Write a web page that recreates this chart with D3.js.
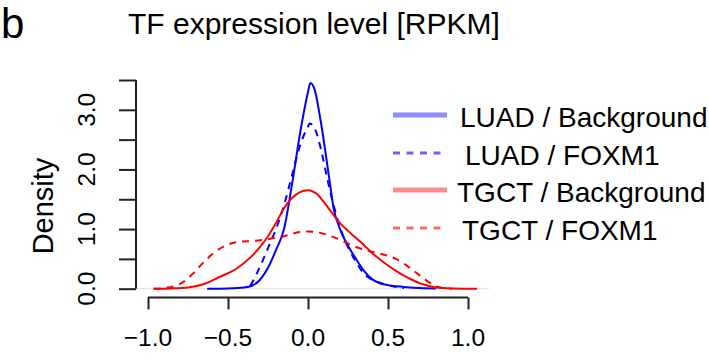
<!DOCTYPE html>
<html><head><meta charset="utf-8">
<script src="https://cdn.jsdelivr.net/npm/d3@7"></script>
<style>body{margin:0;background:#fff}svg{display:block}text{font-family:"Liberation Sans",Arial,Helvetica,sans-serif;fill:#000}</style>
</head><body><svg id="c" width="709" height="360"></svg>
<script>
const panelLabel = "b";
const title = "TF expression level [RPKM]";
const yLabel = "Density";
const xTicks = [-1.0, -0.5, 0.0, 0.5, 1.0];
const yTicks = [0, 0.5, 1, 1.5, 2, 2.5, 3, 3.5];
const yLabelTicks = [0, 1, 2, 3];
const seriesNames = ["LUAD / Background", "LUAD / FOXM1", "TGCT / Background", "TGCT / FOXM1"];
const seriesColors = ["#0000ff", "#0000ff", "#ff0000", "#ff0000"];
const seriesDashed = [false, true, false, true];

const luadBackground = [[-0.63,0],[-0.5,0.005],[-0.4,0.02],[-0.35,0.05],[-0.3,0.15],[-0.25,0.35],[-0.2,0.65],[-0.15,1.0],[-0.1,1.75],[-0.05,2.6],[0,3.3],[0.015,3.45],[0.04,3.35],[0.08,2.8],[0.13,1.9],[0.16,1.35],[0.2,1.0],[0.25,0.72],[0.3,0.5],[0.35,0.3],[0.4,0.16],[0.45,0.09],[0.5,0.06],[0.6,0.03],[0.7,0.01],[0.8,0.003]];
const luadFoxm1 = [[-0.36,0.05],[-0.33,0.2],[-0.3,0.37],[-0.25,0.68],[-0.2,1.0],[-0.15,1.4],[-0.1,1.9],[-0.05,2.4],[0,2.72],[0.01,2.77],[0.04,2.7],[0.08,2.35],[0.12,1.85],[0.16,1.4],[0.2,1.03],[0.25,0.7],[0.3,0.45],[0.35,0.25],[0.4,0.15],[0.45,0.1],[0.5,0.06],[0.55,0.03],[0.6,0.01]];
const tgctBackground = [[-0.965,0],[-0.85,0.005],[-0.75,0.02],[-0.65,0.08],[-0.55,0.2],[-0.45,0.33],[-0.35,0.55],[-0.3,0.7],[-0.25,0.88],[-0.2,1.1],[-0.15,1.35],[-0.1,1.52],[-0.05,1.62],[0,1.65],[0.03,1.63],[0.06,1.58],[0.1,1.45],[0.15,1.27],[0.2,1.1],[0.25,0.97],[0.3,0.85],[0.35,0.73],[0.4,0.6],[0.45,0.49],[0.5,0.39],[0.55,0.3],[0.6,0.22],[0.65,0.15],[0.7,0.09],[0.75,0.05],[0.8,0.02],[0.9,0.005],[1.056,0]];
const tgctFoxm1 = [[-0.965,0],[-0.9,0.01],[-0.8,0.08],[-0.72,0.25],[-0.65,0.45],[-0.58,0.62],[-0.5,0.74],[-0.42,0.79],[-0.35,0.8],[-0.25,0.83],[-0.15,0.88],[-0.05,0.95],[0,0.96],[0.05,0.95],[0.1,0.92],[0.2,0.82],[0.3,0.7],[0.4,0.62],[0.5,0.55],[0.55,0.5],[0.6,0.42],[0.65,0.32],[0.7,0.22],[0.75,0.12],[0.8,0.04],[0.85,0.01],[0.9,0]];
const seriesData = [luadBackground, luadFoxm1, tgctBackground, tgctFoxm1];

const svg = d3.select("#c");
const x = d3.scaleLinear().domain([-1, 1]).range([148, 468]);
const y = d3.scaleLinear().domain([0, 3.5]).range([288.7, 80]);
const axisColor = "#222";

// zero line
svg.append("line").attr("x1", 137).attr("x2", 489).attr("y1", y(0)).attr("y2", y(0))
  .attr("stroke", "#ddd").attr("stroke-width", 1);

// y axis
const yAxis = d3.axisLeft(y).tickValues(yTicks).tickSize(17).tickFormat("");
const gy = svg.append("g").attr("transform", "translate(136,0)").call(yAxis);
gy.select(".domain").attr("stroke", axisColor).attr("stroke-width", 2).attr("d", `M0,${y(3.5)}V${y(0)}`);
gy.selectAll(".tick line").attr("stroke", axisColor).attr("stroke-width", 2);
svg.selectAll(".ylab").data(yLabelTicks).enter().append("text")
  .attr("transform", d => `translate(95,${y(d)}) rotate(-90)`)
  .attr("text-anchor", "middle").attr("font-size", 24.5).text(d => d.toFixed(1));

// x axis
const xAxis = d3.axisBottom(x).tickValues(xTicks).tickSize(12).tickFormat("");
const gx = svg.append("g").attr("transform", "translate(0,297.5)").call(xAxis);
gx.select(".domain").attr("stroke", axisColor).attr("stroke-width", 2).attr("d", `M${x(-1)},0H${x(1)}`);
gx.selectAll(".tick line").attr("stroke", axisColor).attr("stroke-width", 2);
svg.selectAll(".xlab").data(xTicks).enter().append("text")
  .attr("x", d => x(d)).attr("y", 345.5).attr("text-anchor", "middle").attr("font-size", 24.5)
  .text(d => (d < 0 ? "\u2212" : "") + Math.abs(d).toFixed(1));

// curves
const line = d3.line().x(d => x(d[0])).y(d => y(d[1])).curve(d3.curveMonotoneX);
seriesData.forEach((s, i) => {
  svg.append("path").attr("d", line(s)).attr("fill", "none")
    .attr("stroke", seriesColors[i]).attr("stroke-width", 2)
    .attr("stroke-dasharray", seriesDashed[i] ? "7,6" : null);
});

// legend
const legY = [115, 153, 190, 228];
const legTextX = [460, 465, 457, 462];
seriesNames.forEach((n, i) => {
  svg.append("line").attr("x1", 393).attr("x2", 447).attr("y1", legY[i]).attr("y2", legY[i])
    .attr("stroke", seriesColors[i]).attr("stroke-opacity", seriesDashed[i] ? 0.6 : 0.45)
    .attr("stroke-width", seriesDashed[i] ? 3 : 5)
    .attr("stroke-dasharray", seriesDashed[i] ? "7,6.5" : null);
  svg.append("text").attr("x", legTextX[i]).attr("y", legY[i] + 12).attr("font-size", 28).text(n);
});

// titles
svg.append("text").attr("x", 1).attr("y", 38).attr("font-size", 42).text(panelLabel);
svg.append("text").attr("x", 128).attr("y", 34).attr("font-size", 30).text(title);
svg.append("text").attr("transform", "translate(53,206) rotate(-90)").attr("text-anchor", "middle")
  .attr("font-size", 29).text(yLabel);
</script></body></html>
